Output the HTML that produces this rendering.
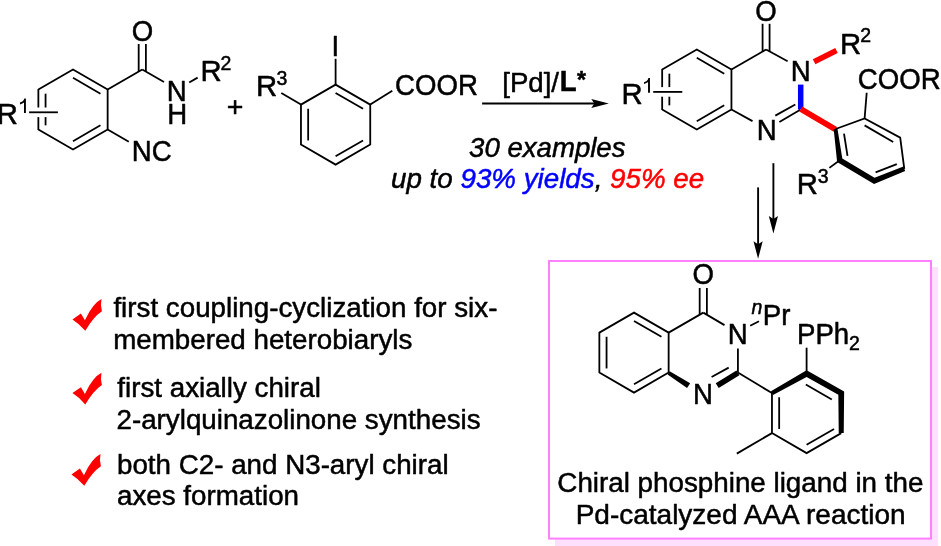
<!DOCTYPE html>
<html><head><meta charset="utf-8"><style>
html,body{margin:0;padding:0;background:#fff;}
svg{display:block;font-family:"Liberation Sans",sans-serif;will-change:transform;}
text{stroke-width:0.5px;stroke-linejoin:round;}
</style></head><body>
<svg width="941" height="546" viewBox="0 0 941 546">
<rect width="941" height="546" fill="#fff"/>
<rect x="555" y="267" width="383" height="279" fill="#fde0fd"/>
<rect x="549" y="261" width="382" height="277.6" fill="#fff" stroke="#ff80ff" stroke-width="2"/>
<polyline points="634.00,312.60 668.64,332.60 668.64,372.60 634.00,392.60 599.36,372.60 599.36,332.60 634.00,312.60 668.64,332.60" fill="none" stroke="#000" stroke-width="1.80" stroke-linejoin="miter"/>
<line x1="606.56" y1="336.76" x2="606.56" y2="368.44" stroke="#000" stroke-width="1.80" stroke-linecap="butt"/>
<line x1="634.00" y1="320.91" x2="661.44" y2="336.76" stroke="#000" stroke-width="1.80" stroke-linecap="butt"/>
<line x1="661.44" y1="368.44" x2="634.00" y2="384.29" stroke="#000" stroke-width="1.80" stroke-linecap="butt"/>
<line x1="668.64" y1="332.60" x2="703.28" y2="312.60" stroke="#000" stroke-width="1.80" stroke-linecap="butt"/>
<line x1="703.28" y1="312.60" x2="724.50" y2="325.10" stroke="#000" stroke-width="1.80" stroke-linecap="butt"/>
<line x1="699.68" y1="288.00" x2="699.68" y2="314.70" stroke="#000" stroke-width="1.80" stroke-linecap="butt"/>
<line x1="706.88" y1="288.00" x2="706.88" y2="314.70" stroke="#000" stroke-width="1.80" stroke-linecap="butt"/>
<text transform="translate(703.28,284.40) scale(1.000,1.040)" font-size="27.60" text-anchor="middle" fill="#000" stroke="#000">O</text>
<text transform="translate(727.64,344.20) scale(1.000,1.040)" font-size="27.60" fill="#000" stroke="#000">N</text>
<line x1="737.92" y1="348.50" x2="737.92" y2="372.60" stroke="#000" stroke-width="1.80" stroke-linecap="butt"/>
<line x1="750.20" y1="325.70" x2="759.00" y2="321.30" stroke="#000" stroke-width="1.80" stroke-linecap="butt"/>
<text x="751.58" y="313.50" font-size="19.50" font-style="italic" fill="#000" stroke="#000">n</text>
<text transform="translate(762.84,324.60) scale(1.000,1.040)" font-size="27.60" fill="#000" stroke="#000">Pr</text>
<polygon points="667.62,374.50 687.04,388.05 690.16,383.15 669.66,371.30" fill="#000"/>
<text transform="translate(692.94,403.60) scale(1.000,1.040)" font-size="27.60" fill="#000" stroke="#000">N</text>
<polygon points="718.68,388.08 739.40,375.18 736.44,370.42 715.72,383.32" fill="#000"/>
<line x1="711.60" y1="377.00" x2="728.70" y2="367.60" stroke="#000" stroke-width="1.80" stroke-linecap="butt"/>
<line x1="737.92" y1="372.60" x2="771.96" y2="393.10" stroke="#000" stroke-width="1.80" stroke-linecap="butt"/>
<polyline points="841.24,433.10 806.60,453.10 771.96,433.10 771.96,393.10" fill="none" stroke="#000" stroke-width="1.80" stroke-linejoin="miter"/>
<polygon points="772.99,394.93 806.60,376.93 838.34,394.80 838.74,433.10 843.74,433.10 844.14,391.40 806.60,370.27 770.93,391.27" fill="#000"/>
<line x1="779.16" y1="397.26" x2="779.16" y2="428.94" stroke="#000" stroke-width="1.80" stroke-linecap="butt"/>
<line x1="805.83" y1="384.43" x2="831.81" y2="399.43" stroke="#000" stroke-width="1.80" stroke-linecap="butt"/>
<line x1="834.04" y1="428.94" x2="806.60" y2="444.79" stroke="#000" stroke-width="1.80" stroke-linecap="butt"/>
<line x1="806.60" y1="373.10" x2="806.60" y2="347.70" stroke="#000" stroke-width="1.80" stroke-linecap="butt"/>
<text transform="translate(797.04,344.20) scale(1.000,1.040)" font-size="27.60" fill="#000" stroke="#000">PPh</text>
<text x="849.12" y="350.10" font-size="19.50" fill="#000" stroke="#000">2</text>
<line x1="771.96" y1="433.10" x2="736.80" y2="453.60" stroke="#000" stroke-width="1.80" stroke-linecap="butt"/>
<text x="740.35" y="491.80" font-size="27.79" text-anchor="middle" fill="#000" stroke="#000">Chiral phosphine ligand in the</text>
<text x="740.65" y="523.70" font-size="28.01" text-anchor="middle" fill="#000" stroke="#000">Pd-catalyzed AAA reaction</text>
<polyline points="38.36,89.50 73.00,69.50 107.64,89.50 107.64,129.50 73.00,149.50 38.36,129.50" fill="none" stroke="#000" stroke-width="1.80" stroke-linejoin="miter"/>
<line x1="38.36" y1="89.00" x2="38.36" y2="107.50" stroke="#000" stroke-width="1.80" stroke-linecap="butt"/>
<line x1="38.36" y1="117.10" x2="38.36" y2="130.00" stroke="#000" stroke-width="1.80" stroke-linecap="butt"/>
<line x1="45.56" y1="93.66" x2="45.56" y2="107.50" stroke="#000" stroke-width="1.80" stroke-linecap="butt"/>
<line x1="45.56" y1="117.10" x2="45.56" y2="125.34" stroke="#000" stroke-width="1.80" stroke-linecap="butt"/>
<line x1="73.00" y1="77.81" x2="100.44" y2="93.66" stroke="#000" stroke-width="1.80" stroke-linecap="butt"/>
<line x1="100.44" y1="125.34" x2="73.00" y2="141.19" stroke="#000" stroke-width="1.80" stroke-linecap="butt"/>
<line x1="29.10" y1="112.30" x2="57.90" y2="112.30" stroke="#000" stroke-width="1.80" stroke-linecap="butt"/>
<text transform="translate(-3.30,124.10) scale(1.060,1.040)" font-size="27.60" fill="#000" stroke="#000">R</text>
<polygon points="25.90,113.10 25.90,98.50 24.35,98.50 23.75,100.10 22.35,101.60 19.95,102.60 19.95,104.40 22.35,103.50 24.00,102.50 24.00,113.10" fill="#000"/>
<line x1="107.64" y1="89.50" x2="142.28" y2="69.50" stroke="#000" stroke-width="1.80" stroke-linecap="butt"/>
<line x1="142.28" y1="69.50" x2="164.00" y2="82.00" stroke="#000" stroke-width="1.80" stroke-linecap="butt"/>
<line x1="138.68" y1="44.00" x2="138.68" y2="71.60" stroke="#000" stroke-width="1.80" stroke-linecap="butt"/>
<line x1="145.88" y1="44.00" x2="145.88" y2="71.60" stroke="#000" stroke-width="1.80" stroke-linecap="butt"/>
<text transform="translate(142.48,40.90) scale(1.000,1.040)" font-size="27.60" text-anchor="middle" fill="#000" stroke="#000">O</text>
<text transform="translate(166.64,100.50) scale(1.000,1.040)" font-size="27.60" fill="#000" stroke="#000">N</text>
<text transform="translate(167.24,123.80) scale(1.000,1.040)" font-size="27.60" fill="#000" stroke="#000">H</text>
<line x1="189.20" y1="82.50" x2="197.60" y2="77.60" stroke="#000" stroke-width="1.80" stroke-linecap="butt"/>
<text transform="translate(200.40,80.70) scale(1.060,1.040)" font-size="27.60" fill="#000" stroke="#000">R</text>
<text x="220.62" y="69.80" font-size="19.50" fill="#000" stroke="#000">2</text>
<line x1="107.64" y1="129.50" x2="128.80" y2="141.80" stroke="#000" stroke-width="1.80" stroke-linecap="butt"/>
<text transform="translate(131.74,160.50) scale(1.000,1.040)" font-size="27.60" fill="#000" stroke="#000">NC</text>
<polyline points="335.60,84.60 370.24,104.60 370.24,144.60 335.60,164.60 300.96,144.60 300.96,104.60 335.60,84.60 370.24,104.60" fill="none" stroke="#000" stroke-width="1.80" stroke-linejoin="miter"/>
<line x1="308.16" y1="108.76" x2="308.16" y2="140.44" stroke="#000" stroke-width="1.80" stroke-linecap="butt"/>
<line x1="335.60" y1="92.91" x2="363.04" y2="108.76" stroke="#000" stroke-width="1.80" stroke-linecap="butt"/>
<line x1="363.04" y1="140.44" x2="335.60" y2="156.29" stroke="#000" stroke-width="1.80" stroke-linecap="butt"/>
<line x1="335.60" y1="84.60" x2="335.60" y2="58.80" stroke="#000" stroke-width="1.80" stroke-linecap="butt"/>
<text transform="translate(331.55,55.50) scale(1.000,1.040)" font-size="27.60" fill="#000" stroke="#000">I</text>
<line x1="300.96" y1="104.60" x2="281.30" y2="92.90" stroke="#000" stroke-width="1.80" stroke-linecap="butt"/>
<text transform="translate(255.90,95.50) scale(1.060,1.040)" font-size="27.60" fill="#000" stroke="#000">R</text>
<text x="276.56" y="84.60" font-size="19.50" fill="#000" stroke="#000">3</text>
<line x1="370.24" y1="104.60" x2="392.30" y2="90.70" stroke="#000" stroke-width="1.80" stroke-linecap="butt"/>
<text transform="translate(395.10,95.20) scale(1.000,1.040)" font-size="27.60" fill="#000" stroke="#000">COOR</text>
<text x="235.10" y="115.70" font-size="28.50" text-anchor="middle" fill="#000" stroke="#000">+</text>
<line x1="482.10" y1="103.50" x2="598.00" y2="103.50" stroke="#000" stroke-width="1.90" stroke-linecap="butt"/>
<polygon points="608.80,103.50 591.30,108.10 594.30,103.50 591.30,98.90" fill="#000"/>
<text x="502.23" y="91.6" font-size="27.60" fill="#000" stroke="#000">[Pd]/</text>
<text transform="translate(559.7,91.2) scale(1,1.05)" font-size="27.60" font-weight="bold" fill="#000" stroke="#000">L</text>
<text x="577.1" y="88.2" font-size="23.1" font-weight="bold" fill="#000" stroke="#000">*</text>
<text x="469.05" y="156.50" font-size="27.60" font-style="italic" fill="#000" stroke="#000">30 examples</text>
<text x="391.03" y="188.4" font-size="27.75" font-style="italic" fill="#000" stroke="#000">up to <tspan fill="#0000ff" stroke="#0000ff">93% yields</tspan>, <tspan fill="#ff0000" stroke="#ff0000">95% ee</tspan></text>
<line x1="773.40" y1="163.20" x2="773.40" y2="222.00" stroke="#000" stroke-width="1.90" stroke-linecap="butt"/>
<polygon points="773.40,233.60 768.80,216.10 773.40,219.10 778.00,216.10" fill="#000"/>
<line x1="758.10" y1="187.40" x2="758.10" y2="247.00" stroke="#000" stroke-width="1.90" stroke-linecap="butt"/>
<polygon points="758.10,258.80 753.50,241.30 758.10,244.30 762.70,241.30" fill="#000"/>
<polyline points="662.16,69.50 696.80,49.50 731.44,69.50 731.44,109.50 696.80,129.50 662.16,109.50" fill="none" stroke="#000" stroke-width="1.80" stroke-linejoin="miter"/>
<line x1="662.16" y1="69.00" x2="662.16" y2="87.10" stroke="#000" stroke-width="1.80" stroke-linecap="butt"/>
<line x1="662.16" y1="96.70" x2="662.16" y2="110.00" stroke="#000" stroke-width="1.80" stroke-linecap="butt"/>
<line x1="669.36" y1="73.66" x2="669.36" y2="87.10" stroke="#000" stroke-width="1.80" stroke-linecap="butt"/>
<line x1="669.36" y1="96.70" x2="669.36" y2="105.34" stroke="#000" stroke-width="1.80" stroke-linecap="butt"/>
<line x1="696.80" y1="57.81" x2="724.24" y2="73.66" stroke="#000" stroke-width="1.80" stroke-linecap="butt"/>
<line x1="724.24" y1="105.34" x2="696.80" y2="121.19" stroke="#000" stroke-width="1.80" stroke-linecap="butt"/>
<line x1="653.20" y1="91.90" x2="682.30" y2="91.90" stroke="#000" stroke-width="1.80" stroke-linecap="butt"/>
<text transform="translate(621.60,103.80) scale(1.060,1.040)" font-size="27.60" fill="#000" stroke="#000">R</text>
<polygon points="649.95,92.70 649.95,78.10 648.40,78.10 647.80,79.70 646.40,81.20 644.00,82.20 644.00,84.00 646.40,83.10 648.05,82.10 648.05,92.70" fill="#000"/>
<line x1="731.44" y1="69.50" x2="766.08" y2="49.50" stroke="#000" stroke-width="1.80" stroke-linecap="butt"/>
<line x1="766.08" y1="49.50" x2="787.60" y2="61.20" stroke="#000" stroke-width="1.80" stroke-linecap="butt"/>
<line x1="762.58" y1="23.80" x2="762.58" y2="51.50" stroke="#000" stroke-width="1.80" stroke-linecap="butt"/>
<line x1="769.58" y1="23.80" x2="769.58" y2="51.50" stroke="#000" stroke-width="1.80" stroke-linecap="butt"/>
<text transform="translate(766.08,21.30) scale(1.000,1.040)" font-size="27.60" text-anchor="middle" fill="#000" stroke="#000">O</text>
<text transform="translate(790.84,80.90) scale(1.000,1.040)" font-size="27.60" fill="#000" stroke="#000">N</text>
<line x1="800.70" y1="84.60" x2="800.70" y2="109.50" stroke="#0000ff" stroke-width="5.50" stroke-linecap="butt"/>
<line x1="814.10" y1="61.70" x2="836.50" y2="50.40" stroke="#ff0000" stroke-width="5.60" stroke-linecap="butt"/>
<text transform="translate(840.00,53.60) scale(1.060,1.040)" font-size="27.60" fill="#000" stroke="#000">R</text>
<text x="860.32" y="42.40" font-size="19.50" fill="#000" stroke="#000">2</text>
<line x1="731.44" y1="109.50" x2="752.50" y2="121.10" stroke="#000" stroke-width="1.80" stroke-linecap="butt"/>
<text transform="translate(756.64,140.30) scale(1.000,1.040)" font-size="27.60" fill="#000" stroke="#000">N</text>
<line x1="779.40" y1="122.00" x2="800.22" y2="109.80" stroke="#000" stroke-width="1.80" stroke-linecap="butt"/>
<line x1="775.30" y1="115.60" x2="795.30" y2="104.50" stroke="#000" stroke-width="1.80" stroke-linecap="butt"/>
<line x1="800.72" y1="109.00" x2="835.60" y2="129.40" stroke="#ff0000" stroke-width="5.80" stroke-linecap="butt"/>
<polyline points="835.60,129.00 864.60,118.50 900.20,137.60 904.30,168.80" fill="none" stroke="#000" stroke-width="1.80" stroke-linejoin="miter"/>
<polygon points="833.72,129.25 837.10,161.91 874.06,183.91 905.19,171.03 903.41,166.57 874.54,177.69 842.30,158.49 837.48,128.75" fill="#000"/>
<line x1="844.00" y1="133.60" x2="847.50" y2="155.90" stroke="#000" stroke-width="1.80" stroke-linecap="butt"/>
<line x1="864.60" y1="125.40" x2="893.20" y2="142.00" stroke="#000" stroke-width="1.80" stroke-linecap="butt"/>
<line x1="875.60" y1="172.40" x2="896.80" y2="164.20" stroke="#000" stroke-width="1.80" stroke-linecap="butt"/>
<line x1="864.60" y1="118.50" x2="866.70" y2="92.80" stroke="#000" stroke-width="1.80" stroke-linecap="butt"/>
<text transform="translate(857.80,89.30) scale(1.000,1.040)" font-size="27.60" fill="#000" stroke="#000">COOR</text>
<line x1="839.70" y1="160.20" x2="829.40" y2="167.90" stroke="#000" stroke-width="1.80" stroke-linecap="butt"/>
<text transform="translate(796.80,194.00) scale(1.060,1.040)" font-size="27.60" fill="#000" stroke="#000">R</text>
<text x="817.86" y="183.40" font-size="19.50" fill="#000" stroke="#000">3</text>
<path d="M72.45,319.4 L80.9,313.6 L84.9,320.2 Q92.8,303.4 101.5,299.1 Q100.2,305 101.9,311.3 Q93.6,316.75 85.3,330.8 Q79,323.5 72.45,319.4 Z" fill="#ff0000" transform="translate(0.00,0.00)"/>
<path d="M72.45,319.4 L80.9,313.6 L84.9,320.2 Q92.8,303.4 101.5,299.1 Q100.2,305 101.9,311.3 Q93.6,316.75 85.3,330.8 Q79,323.5 72.45,319.4 Z" fill="#ff0000" transform="translate(0.00,73.70)"/>
<path d="M72.45,319.4 L80.9,313.6 L84.9,320.2 Q92.8,303.4 101.5,299.1 Q100.2,305 101.9,311.3 Q93.6,316.75 85.3,330.8 Q79,323.5 72.45,319.4 Z" fill="#ff0000" transform="translate(-1.00,155.00)"/>
<text x="113.41" y="316.90" font-size="27.75" fill="#000" stroke="#000">first coupling-cyclization for six-</text>
<text x="113.16" y="348.70" font-size="27.75" fill="#000" stroke="#000">membered heterobiaryls</text>
<text x="117.31" y="397.00" font-size="27.75" fill="#000" stroke="#000">first axially chiral</text>
<text x="116.50" y="428.70" font-size="27.75" fill="#000" stroke="#000">2-arylquinazolinone synthesis</text>
<text x="117.01" y="474.40" font-size="27.75" fill="#000" stroke="#000">both C2- and N3-aryl chiral</text>
<text x="117.02" y="505.30" font-size="27.75" fill="#000" stroke="#000">axes formation</text>
</svg>
</body></html>
